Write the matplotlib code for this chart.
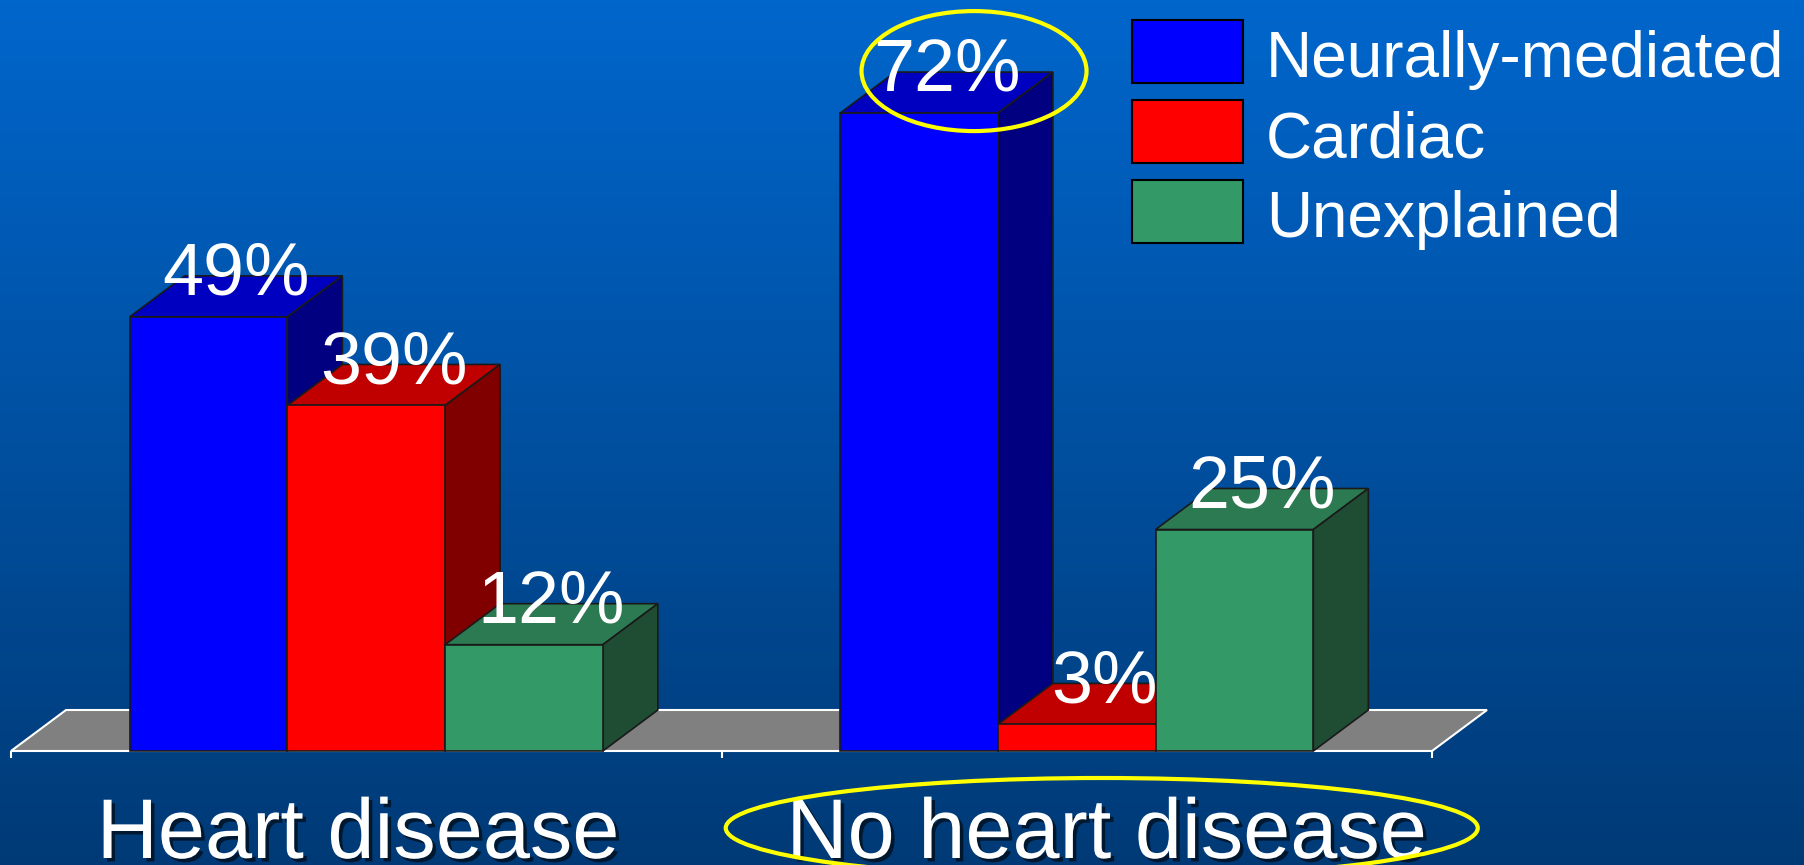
"""Causes of syncope by heart disease status, drawn as pseudo-3D bars."""

import matplotlib.pyplot as plt
import matplotlib.patheffects as pe
import numpy as np
from matplotlib.colors import LinearSegmentedColormap
from matplotlib.patches import Ellipse, Polygon, Rectangle
from matplotlib.transforms import offset_copy

groups = ["Heart disease", "No heart disease"]
causes = ["Neurally-mediated", "Cardiac", "Unexplained"]
heart_disease = [49, 39, 12]
no_heart_disease = [72, 3, 25]

front_colors = ["#0000FF", "#FF0000", "#339966"]
top_colors = ["#0000C0", "#C00000", "#2C7A52"]
side_colors = ["#000080", "#800000", "#1E4D33"]

W, H, DPI = 1804, 865, 100
FONT = "Liberation Sans"

# axes geometry in pixels: baseline 114 px from the bottom, 8.86 px per percent
AX_LEFT, AX_WIDTH = 11, 1421
AX_BOTTOM, PX_PER_PCT = 114, 8.86
YMAX = 80
BAR_W = 0.222
DEPTH_PX = (55, 41)

fig = plt.figure(figsize=(W / DPI, H / DPI), dpi=DPI)

# vertical gradient background
bg = fig.add_axes([0, 0, 1, 1], zorder=-10)
cmap = LinearSegmentedColormap.from_list("bg", ["#003A76", "#0066CC"])
bg.imshow(np.linspace(0, 1, 256)[:, None], cmap=cmap, aspect="auto",
          origin="lower", extent=[0, 1, 0, 1])
bg.set_axis_off()

ax = fig.add_axes([AX_LEFT / W, AX_BOTTOM / H, AX_WIDTH / W, YMAX * PX_PER_PCT / H])
ax.set_xlim(-0.5, len(groups) - 0.5)
ax.set_ylim(0, YMAX)
ax.patch.set_visible(False)
for s in ax.spines.values():
    s.set_visible(False)
ax.yaxis.set_visible(False)
ax.set_xticks(np.arange(len(groups) + 1) - 0.5)
ax.set_xticklabels([])
ax.tick_params(axis="x", colors="white", length=5, width=1.5, direction="out")

px_x = AX_WIDTH / (len(groups))  # pixels per x unit
dx = DEPTH_PX[0] / px_x
dy = DEPTH_PX[1] / PX_PER_PCT

# grey floor
floor = Polygon([(-0.5, 0), (len(groups) - 0.5, 0), (len(groups) - 0.5 + dx, dy), (-0.5 + dx, dy)],
                closed=True, facecolor="#808080", edgecolor="white", lw=1.5, zorder=1, clip_on=False)
ax.add_patch(floor)

edge = dict(edgecolor="#1a1a1a", linewidth=1.2)
label_kw = dict(color="white", fontsize=53, family=FONT, ha="center", va="baseline",
                textcoords="offset points", zorder=20)

series = [heart_disease, no_heart_disease]
order = 0
bar_tops = {}
for gi, values in enumerate(series):
    for ci, v in enumerate(values):
        xl = gi - 1.5 * BAR_W + ci * BAR_W
        z = 3 + order * 0.1
        ax.bar(xl, v, width=BAR_W, align="edge", color=front_colors[ci], zorder=z + 0.02,
               clip_on=False, **edge)
        top = Polygon([(xl, v), (xl + BAR_W, v), (xl + BAR_W + dx, v + dy), (xl + dx, v + dy)],
                      closed=True, facecolor=top_colors[ci], zorder=z, clip_on=False, **edge)
        side = Polygon([(xl + BAR_W, 0), (xl + BAR_W + dx, dy), (xl + BAR_W + dx, v + dy), (xl + BAR_W, v)],
                       closed=True, facecolor=side_colors[ci], zorder=z, clip_on=False, **edge)
        ax.add_patch(top)
        ax.add_patch(side)
        ax.annotate(f"{v}%", xy=(xl + BAR_W / 2 + dx / 2, v), xytext=(0, 16), **label_kw)
        bar_tops[(gi, ci)] = (xl + BAR_W / 2, v)
        order += 1

# category labels under each group
shadow = [pe.withSimplePatchShadow(offset=(2.5, -2.5), shadow_rgbFace="black", alpha=0.6)]
cat_offsets_px = [-8, 30]
for gi, name in enumerate(groups):
    ax.annotate(name, xy=(gi, 0), xytext=(cat_offsets_px[gi], -107), textcoords="offset pixels",
                color="white", fontsize=61, family=FONT, ha="center", va="baseline",
                path_effects=shadow, annotation_clip=False)


def highlight(x, y, w_px, h_px, ox_px, oy_px):
    tr = offset_copy(ax.transData, fig=fig, x=ox_px, y=oy_px, units="dots")
    ax.add_patch(Ellipse((x, y), w_px / px_x, h_px / PX_PER_PCT, transform=tr, fill=False,
                         edgecolor="#FFFF00", lw=3, zorder=25, clip_on=False))


# yellow rings around the highlighted value and group
bx, bv = bar_tops[(1, 0)]
highlight(bx, bv, 225, 120, 55, 42)
highlight(1, 0, 752, 100, 25, -77)

# legend
for ci, name in enumerate(causes):
    top_px = 20 + ci * 80
    fig.patches.append(Rectangle((1132 / W, 1 - (top_px + 63) / H), 111 / W, 63 / H,
                                 transform=fig.transFigure, facecolor=front_colors[ci],
                                 edgecolor="black", lw=1.5))
    fig.text(1266 / W, 1 - (top_px + 57) / H, name, color="white", fontsize=46,
             family=FONT, ha="left", va="baseline")

fig.savefig("out.png", dpi=DPI)
